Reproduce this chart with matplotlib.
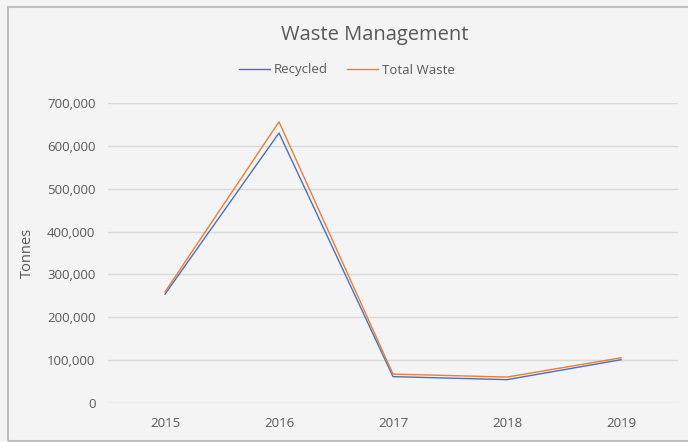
import matplotlib.pyplot as plt
from matplotlib.ticker import FuncFormatter
from matplotlib.patches import Rectangle

years = ["2015", "2016", "2017", "2018", "2019"]
recycled = [254000, 630000, 61500, 54500, 101000]
total_waste = [259000, 656000, 67500, 60500, 105500]

plt.rcParams['font.family'] = ['Open Sans', 'DejaVu Sans']

fig = plt.figure(figsize=(6.88, 4.42), dpi=100, facecolor='#f4f4f4')
# chart border (right side is cut off in the reference)
fig.patches.append(Rectangle((7.5/688, 1.5/442), 700/688, 433.5/442, transform=fig.transFigure,
                             fill=False, edgecolor='#bfbfbf', linewidth=1.5))
ax = fig.add_axes([108/688, 39/442, 570/688, 300/442])
ax.set_facecolor('#f4f4f4')

x = range(len(years))
ax.plot(x, recycled, color='#4472C4', linewidth=1, label='Recycled')
ax.plot(x, total_waste, color='#ED7D31', linewidth=1, label='Total Waste')

ax.set_xlim(-0.5, len(years) - 0.5)
ax.set_ylim(0, 700000)
ax.set_yticks(range(0, 700001, 100000))
ax.yaxis.set_major_formatter(FuncFormatter(lambda v, p: f"{int(v):,}"))
ax.set_xticks(list(x))
ax.set_xticklabels(years)
ax.grid(axis='y', color='#d9d9d9', linewidth=1)
ax.set_axisbelow(True)
for s in ax.spines.values():
    s.set_visible(False)
ax.tick_params(length=0, colors='#595959', labelsize=9.5)
ax.tick_params(axis='x', pad=10)
ax.tick_params(axis='y', pad=9)
ax.set_ylabel('Tonnes', color='#595959', fontsize=10.5, labelpad=9)

fig.text(375/688, 1 - 35/442, 'Waste Management', ha='center', va='center',
         color='#595959', fontsize=14.5)
fig.legend(loc='center', bbox_to_anchor=(347/688, 1 - 70/442), ncol=2, frameon=False,
           fontsize=9.5, labelcolor='#595959', handlelength=2.3, handletextpad=0.3,
           columnspacing=1.5)

fig.savefig('out.png', dpi=100, facecolor=fig.get_facecolor())
